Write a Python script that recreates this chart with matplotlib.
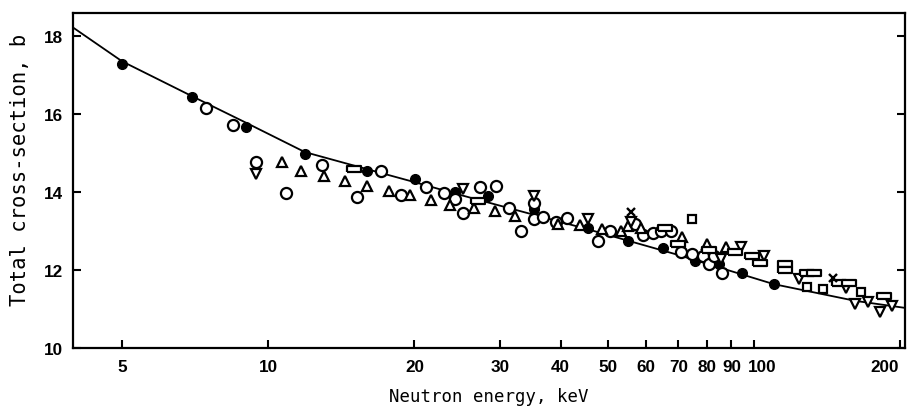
import matplotlib
matplotlib.use("Agg")
import matplotlib.pyplot as plt
from matplotlib.ticker import FixedLocator, NullLocator, FixedFormatter
import matplotlib.transforms as mtransforms

# ---- data (energy keV, cross-section b) ----
curve_x = [3.96, 5, 6.98, 8.98, 11.9, 16.0, 20.0, 24.2, 29.7, 45.5, 69.0, 110, 162, 205]
curve_y = [18.23, 17.36, 16.46, 15.79, 15.03, 14.59, 14.26, 13.97, 13.67, 13.05, 12.41,
           11.64, 11.21, 11.03]

filled_x = [5, 6.96, 9.0, 11.9, 16.0, 20.1, 24.2, 28.3, 35.2, 45.5, 55.2, 65, 75.6, 85, 94.8, 110]
filled_y = [17.3, 16.44, 15.67, 14.97, 14.54, 14.33, 14.0, 13.9, 13.56, 13.08, 12.74, 12.56,
            12.23, 12.15, 11.92, 11.64]

open_x = [7.45, 8.47, 9.42, 10.86, 12.9, 15.2, 17.1, 18.8, 21.1, 23.0, 24.3, 25.2, 27.3, 29.4,
          31.3, 33.2, 35.2, 35.2, 36.8, 39.2, 41.2, 47.8, 50.7, 57, 59.1, 62, 64.3, 67.5, 70.7,
          74.8, 78.6, 81, 82.8, 86]
open_y = [16.15, 15.72, 14.77, 13.97, 14.70, 13.87, 14.54, 13.92, 14.13, 13.97, 13.82, 13.46,
          14.13, 14.15, 13.59, 13.0, 13.72, 13.31, 13.36, 13.23, 13.33, 12.74, 13.0, 13.18, 12.9,
          12.95, 13.0, 13.0, 12.46, 12.41, 12.36, 12.15, 12.36, 11.92]

tri_x = [10.66, 11.7, 13.0, 14.4, 16.0, 17.7, 19.6, 21.6, 23.7, 26.5, 29.3, 32.2, 39.6, 43.8,
         48.7, 53.3, 55, 58.6, 71.3, 80, 87.9]
tri_y = [14.77, 14.54, 14.41, 14.28, 14.15, 14.03, 13.92, 13.79, 13.67, 13.59, 13.51, 13.38,
         13.18, 13.15, 13.06, 13.0, 13.13, 13.08, 12.85, 12.67, 12.59]

inv_x = [9.42, 25.2, 35.2, 45.5, 56, 85.6, 94.3, 105, 124, 155, 162, 172, 182, 193]
inv_y = [14.46, 14.08, 13.9, 13.31, 13.23, 12.28, 12.59, 12.36, 11.77, 11.54, 11.13, 11.18,
         10.92, 11.08]

rect_x = [15.0, 27.1, 65.7, 69.7, 81, 91.4, 99, 103, 116, 116, 129, 133, 150, 157, 186]
rect_y = [14.59, 13.77, 13.08, 12.67, 12.51, 12.46, 12.36, 12.18, 12.15, 12.0, 11.92, 11.92,
          11.67, 11.67, 11.33]

square_x = [74.5, 129, 139, 166]
square_y = [13.31, 11.56, 11.51, 11.44]

cross_x = [56, 146]
cross_y = [13.49, 11.79]

xtick_vals = [5, 10, 20, 30, 40, 50, 60, 70, 80, 90, 100, 200]
xtick_labels = ["5", "10", "20", "30", "40", "50", "60", "70", "80", "90", "100", "200"]
ytick_vals = [10, 12, 14, 16, 18]
ytick_labels = ["10", "12", "14", "16", "18"]

tick_font = ["Liberation Sans", "DejaVu Sans"]

# ---- figure ----
fig = plt.figure(figsize=(9.09, 4.14), dpi=100)
ax = fig.add_axes([0.0803, 0.157, 0.9153, 0.809])

ax.plot(curve_x, curve_y, color="black", lw=1.3, zorder=2)

mk = dict(linestyle="none", color="black", zorder=3)
ax.plot(filled_x, filled_y, marker="o", ms=7, mfc="black", mec="black", **mk)
ax.plot(open_x, open_y, marker="o", ms=8, mfc="white", mec="black", mew=1.6, **mk)
ax.plot(tri_x, tri_y, marker="^", ms=6.5, mfc="white", mec="black", mew=1.6, **mk)
ax.plot(inv_x, inv_y, marker="v", ms=6.5, mfc="white", mec="black", mew=1.6, **mk)
rect_marker = [(-1, -0.45), (1, -0.45), (1, 0.45), (-1, 0.45), (-1, -0.45)]
ax.plot(rect_x, rect_y, marker=rect_marker, ms=10, mfc="white", mec="black", mew=1.6, **mk)
ax.plot(square_x, square_y, marker="s", ms=6, mfc="white", mec="black", mew=1.6, **mk)
ax.plot(cross_x, cross_y, marker="x", ms=6, mec="black", mew=1.7, **mk)

ax.set_xscale("log")
ax.set_xlim(3.96, 205)
ax.set_ylim(10, 18.6)

ax.xaxis.set_major_locator(FixedLocator(xtick_vals))
ax.xaxis.set_major_formatter(FixedFormatter(xtick_labels))
ax.xaxis.set_minor_locator(NullLocator())
ax.yaxis.set_major_locator(FixedLocator(ytick_vals))
ax.yaxis.set_major_formatter(FixedFormatter(ytick_labels))
ax.yaxis.set_minor_locator(NullLocator())

ax.tick_params(axis="both", direction="in", length=6, width=1.5, labelsize=12)
ax.tick_params(axis="x", pad=8)
ax.tick_params(axis="y", pad=7, right=True)
for lab in ax.get_xticklabels() + ax.get_yticklabels():
    lab.set_family(tick_font)
    lab.set_fontweight("bold")
    lab.set_fontsize(12.3)
# small horizontal offsets of some x labels, as in the reference
xlabs = ax.get_xticklabels()
for idx, dx in ((10, 6), (11, -11)):
    lab = xlabs[idx]
    lab.set_transform(lab.get_transform() + mtransforms.ScaledTranslation(dx / 72, 0, fig.dpi_scale_trans))

for s in ax.spines.values():
    s.set_linewidth(1.6)

ax.set_xlabel("Neutron energy, keV", family="DejaVu Sans Mono", fontsize=12.5, labelpad=9)
ax.set_ylabel("Total cross-section, b", family="DejaVu Sans Mono", fontsize=14.8, labelpad=8)
ax.yaxis.set_label_coords(-0.052, 0.535)

fig.savefig("out.png", dpi=100)
